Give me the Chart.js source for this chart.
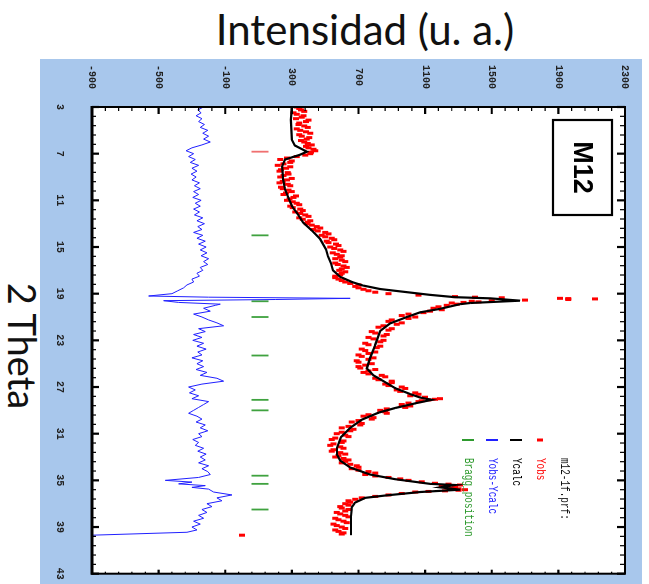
<!DOCTYPE html>
<html>
<head>
<meta charset="utf-8">
<script src="https://cdn.jsdelivr.net/npm/chart.js@4.4.1/dist/chart.umd.min.js"></script>
<style>
  html, body { margin: 0; padding: 0; background: #fff; }
  #page { position: relative; width: 649px; height: 584px; overflow: hidden; background: #fff; }
  #title { position: absolute; left: 365px; top: 4px; transform: translateX(-50%); white-space: nowrap;
           font-family: Lato, "Open Sans", sans-serif; font-size: 42px; line-height: 50px; color: #111; }
  #xlabel { position: absolute; left: 23px; top: 346px; transform: translate(-50%, -50%) rotate(90deg); white-space: nowrap;
            font-family: Lato, "Open Sans", sans-serif; font-size: 38px; line-height: 44px; color: #111; }
  /* the plot is drawn unrotated, then turned a quarter turn clockwise */
  #wrap { position: absolute; left: 40px; top: 59px; width: 525px; height: 602px;
          transform-origin: 0 0; transform: translateX(602px) rotate(90deg); }
</style>
</head>
<body>
<div id="page">
  <div id="title">Intensidad (u. a.)</div>
  <div id="xlabel">2 Theta</div>
  <div id="wrap"><canvas id="chart" width="525" height="602"></canvas></div>
</div>
<script>
// tick labels
const thetaTicks = [3, 7, 11, 15, 19, 23, 27, 31, 35, 39, 43];
const intensityTicks = [-900, -500, -100, 300, 700, 1100, 1500, 1900, 2300];

// Yobs, first half of the scan points
const obsTheta = [
  3.00, 3.25, 3.50, 3.75, 4.00, 4.25, 4.50, 4.75,
  5.00, 5.25, 5.50, 5.75, 6.00, 6.25, 6.50, 6.75,
  7.00, 7.25, 7.50, 7.75, 8.00, 8.25, 8.50, 8.75,
  9.00, 9.25, 9.50, 9.75, 10.00, 10.25, 10.50, 10.75,
  11.00, 11.25, 11.50, 11.75, 12.00, 12.25, 12.50, 12.75,
  13.00, 13.25, 13.50, 13.75, 14.00, 14.25, 14.50, 14.75,
  15.00, 15.25, 15.50, 15.75, 16.00, 16.25, 16.50, 16.75,
  17.00, 17.25, 17.50, 17.75, 18.00, 18.25, 18.50, 18.75,
  19.00, 19.25, 19.35, 19.40, 19.45, 19.50, 19.55, 19.60,
  19.70, 19.80, 20.00, 20.25, 20.50, 20.75, 21.00, 21.25,
  21.50, 21.75, 22.00, 22.25, 22.50, 22.75, 23.00, 23.25,
  23.50, 23.75, 24.00, 24.25, 24.50, 24.75, 25.00, 25.25,
  25.50, 25.75, 26.00, 26.25, 26.50, 26.75, 27.00, 27.25,
  27.50, 27.75, 28.00, 28.10, 28.25, 28.50, 28.75, 29.00,
  29.25, 29.50, 29.75, 30.00, 30.25, 30.50, 30.75, 31.00,
  31.25, 31.50, 31.75, 32.00, 32.25, 32.50, 32.75, 33.00,
  33.25, 33.50, 33.75, 34.00, 34.25, 34.50, 34.75, 35.00,
  35.25, 35.40, 35.50, 35.65, 35.80, 35.90, 36.00, 36.25,
  36.50, 36.75, 37.00, 37.25, 37.50, 37.75, 38.00, 38.25,
  38.50, 38.75, 39.00, 39.25, 39.50, 39.70
];
const obsValues = [
  330, 355, 310, 370, 325, 385, 340, 395,
  350, 410, 360, 390, 375, 420, 400, 440,
  410, 330, 230, 290, 215, 265, 225, 280,
  230, 270, 225, 290, 245, 300, 250, 310,
  270, 330, 290, 350, 320, 380, 345, 410,
  390, 450, 430, 500, 480, 540, 510, 565,
  530, 590, 545, 600, 560, 620, 575, 630,
  585, 600, 560, 580, 620, 700, 700, 760,
  880, 1280, 1560, 1910, 2120, 1960, 1700, 1500,
  1420, 1260, 1230, 1150, 1130, 1000, 1040, 900,
  960, 850, 900, 780, 870, 760, 850, 740,
  830, 720, 800, 700, 790, 690, 780, 700,
  800, 730, 840, 800, 900, 860, 960, 930,
  1040, 1010, 1190, 1120, 1060, 960, 980, 830,
  870, 730, 780, 660, 710, 600, 650, 570,
  640, 540, 600, 530, 610, 540, 620, 560,
  640, 600, 690, 660, 760, 740, 880, 1000,
  1160, 1310, 1200, 1260, 1340, 1220, 1040, 880,
  720, 640, 620, 590, 640, 570, 620, 560,
  610, 550, 600, 560, 610, 0
];

// Yobs, scan points in between
const obsThetaB = [
  3.125, 3.375, 3.625, 3.875, 4.125, 4.375, 4.625, 4.875,
  5.125, 5.375, 5.625, 5.875, 6.125, 6.375, 6.625, 6.875,
  7.125, 7.375, 7.625, 7.875, 8.125, 8.375, 8.625, 8.875,
  9.125, 9.375, 9.625, 9.875, 10.125, 10.375, 10.625, 10.875,
  11.125, 11.375, 11.625, 11.875, 12.125, 12.375, 12.625, 12.875,
  13.125, 13.375, 13.625, 13.875, 14.125, 14.375, 14.625, 14.875,
  15.125, 15.375, 15.625, 15.875, 16.125, 16.375, 16.625, 16.875,
  17.125, 17.375, 17.625, 17.875, 18.125, 18.375, 18.625, 18.875,
  19.125, 19.30, 19.42, 19.65, 19.75, 19.90, 20.125, 20.375,
  20.625, 20.875, 21.125, 21.375, 21.625, 21.875, 22.125, 22.375,
  22.625, 22.875, 23.125, 23.375, 23.625, 23.875, 24.125, 24.375,
  24.625, 24.875, 25.125, 25.375, 25.625, 25.875, 26.125, 26.375,
  26.625, 26.875, 27.125, 27.375, 27.625, 27.875, 28.05, 28.175,
  28.375, 28.625, 28.875, 29.125, 29.375, 29.625, 29.875, 30.125,
  30.375, 30.625, 30.875, 31.125, 31.375, 31.625, 31.875, 32.125,
  32.375, 32.625, 32.875, 33.125, 33.375, 33.625, 33.875, 34.125,
  34.375, 34.625, 34.875, 35.125, 35.325, 35.45, 35.575, 35.725,
  35.85, 35.95, 36.125, 36.375, 36.625, 36.875, 37.125, 37.375,
  37.625, 37.875, 38.125, 38.375, 38.625, 38.875, 39.125, 39.375,
  39.60
];
const obsValuesB = [
  345, 375, 330, 360, 400, 345, 375, 330,
  385, 345, 405, 355, 395, 385, 430, 415,
  380, 270, 300, 250, 290, 235, 275, 250,
  300, 245, 275, 235, 280, 265, 325, 285,
  305, 345, 305, 365, 350, 400, 365, 395,
  420, 470, 455, 520, 500, 555, 520, 580,
  555, 610, 570, 590, 600, 560, 610, 600,
  620, 590, 560, 600, 650, 680, 730, 800,
  1060, 1400, 1960, 1380, 1330, 1290, 1180, 1200,
  1090, 960, 1000, 880, 930, 820, 880, 800,
  850, 790, 830, 760, 810, 740, 760, 720,
  760, 700, 740, 710, 760, 760, 860, 820,
  900, 880, 980, 950, 1060, 1100, 1160, 1080,
  1000, 1010, 870, 860, 760, 790, 700, 720,
  640, 670, 600, 620, 560, 610, 550, 590,
  550, 590, 580, 610, 620, 650, 700, 700,
  800, 800, 950, 1080, 1240, 1230, 1280, 1300,
  1300, 1120, 960, 800, 680, 650, 640, 600,
  620, 590, 640, 580, 630, 570, 620, 580,
  600
];

// Ycalc
const calcTheta = [3.0, 4.1, 5.8, 6.3, 6.66, 6.83, 7.09, 7.5, 8.1, 9.2, 10.06, 10.9, 11.5, 12.2, 12.9, 13.6,
  14.3, 15.2, 15.8, 16.4, 17.0, 17.55, 18.0, 18.3, 18.6, 18.8, 19.1, 19.3, 19.4, 19.6, 19.8, 19.9,
  20.3, 20.6, 21.0, 21.55, 22.2, 23.4, 24.5, 25.4, 26.0, 26.5, 27.1, 27.6, 27.9, 28.1, 28.4, 28.8,
  29.2, 29.8, 30.5, 31.3, 32.2, 32.8, 33.3, 33.9, 34.5, 34.9, 35.3, 35.4, 35.6, 35.8, 36.0, 36.3,
  36.5, 36.9, 37.3, 38.1, 39.0, 39.7];
const calcValues = [300, 294, 300, 318, 367, 390, 349, 259, 241, 247, 259, 283, 300, 336, 367, 421,
  469, 505, 517, 535, 547, 589, 661, 727, 829, 949, 1129, 1279, 1490, 1670, 1370, 1310,
  1190, 1070, 990, 890, 830, 800, 770, 750, 790, 850, 920, 1010, 1070, 1140, 1040, 920,
  820, 720, 650, 595, 571, 571, 590, 650, 770, 920, 1130, 1280, 1190, 1310, 1070, 860,
  740, 680, 660, 655, 655, 655];

// Yobs-Ycalc (drawn with its offset)
const diffTheta = [
  3.00, 3.25, 3.50, 3.75, 4.00, 4.25, 4.50, 4.75,
  5.00, 5.25, 5.50, 5.75, 6.00, 6.25, 6.50, 6.75,
  7.00, 7.25, 7.50, 7.75, 8.00, 8.25, 8.50, 8.75,
  9.00, 9.25, 9.50, 9.75, 10.00, 10.25, 10.50, 10.75,
  11.00, 11.25, 11.50, 11.75, 12.00, 12.25, 12.50, 12.75,
  13.00, 13.25, 13.50, 13.75, 14.00, 14.25, 14.50, 14.75,
  15.00, 15.25, 15.50, 15.75, 16.00, 16.25, 16.50, 16.75,
  17.00, 17.25, 17.50, 17.75, 18.00, 18.25, 18.50, 18.75,
  19.00, 19.20, 19.30, 19.40, 19.50, 19.60, 19.75, 19.90,
  20.00, 20.25, 20.50, 20.75, 21.00, 21.25, 21.50, 21.75,
  22.00, 22.25, 22.50, 22.75, 23.00, 23.25, 23.50, 23.75,
  24.00, 24.25, 24.50, 24.75, 25.00, 25.25, 25.50, 25.75,
  26.00, 26.25, 26.50, 26.75, 27.00, 27.25, 27.50, 27.75,
  28.00, 28.25, 28.50, 28.75, 29.00, 29.25, 29.50, 29.75,
  30.00, 30.25, 30.50, 30.75, 31.00, 31.25, 31.50, 31.75,
  32.00, 32.25, 32.50, 32.75, 33.00, 33.25, 33.50, 33.75,
  34.00, 34.25, 34.50, 34.75, 35.00, 35.15, 35.30, 35.45,
  35.60, 35.75, 36.00, 36.25, 36.50, 36.75, 37.00, 37.25,
  37.50, 37.75, 38.00, 38.25, 38.50, 38.75, 39.00, 39.25,
  39.45, 39.70
];
const diffValues = [
  -230, -265, -245, -275, -240, -260, -225, -250,
  -205, -235, -200, -230, -190, -240, -300, -335,
  -290, -320, -280, -310, -260, -300, -270, -305,
  -275, -300, -255, -285, -250, -290, -260, -295,
  -245, -280, -250, -290, -255, -285, -235, -270,
  -225, -265, -240, -290, -235, -270, -220, -260,
  -215, -250, -210, -245, -200, -230, -205, -250,
  -235, -270, -255, -300, -290, -330, -350, -385,
  -420, -560, -200, 650, 200, -470, -380, -130,
  -160, -230, -190, -290, -240, -200, -150, -110,
  -260, -220, -290, -240, -295, -230, -270, -215,
  -265, -240, -300, -235, -270, -230, -275, -210,
  -250, -150, -110, -240, -320, -280, -315, -260,
  -300, -200, -230, -260, -290, -320, -270, -240,
  -275, -220, -250, -205, -260, -240, -295, -260,
  -280, -230, -265, -215, -250, -220, -260, -200,
  -240, -205, -190, -260, -460, -300, -380, -220,
  -300, -200, -170, -60, -150, -120, -210, -180,
  -240, -210, -260, -230, -290, -250, -300, -270,
  -330, -900
];

// Bragg positions
const braggTheta = [14.0, 19.65, 21.0, 24.3, 28.1, 29.0, 34.6, 35.3, 37.5];
const braggTheta2 = [6.83];
const braggLevel = 108;

const minorSteps = 5;

function withMinor(majors) {
  let out = [];
  for (let i = 0; i < majors.length - 1; i++) {
    let a = majors[i], b = majors[i + 1];
    for (let k = 0; k < minorSteps; k++) {
      out.push({ value: a + (b - a) * k / minorSteps, isMajor: k === 0 });
    }
  }
  out.push({ value: majors[majors.length - 1], isMajor: true });
  return out;
}

function pairs(xs, ys) {
  return xs.map((x, i) => ({ x: x, y: ys[i] }));
}

const tickFont = { family: 'Liberation Mono', size: 10, weight: 'bold' };

// frame, inward ticks, M12 box and the legend
const framePlugin = {
  id: 'frame',
  beforeDraw(chart) {
    const { ctx, chartArea: a, width, height } = chart;
    ctx.save();
    ctx.fillStyle = '#a8c7ec';
    ctx.fillRect(0, 0, width, height);
    ctx.fillStyle = '#ffffff';
    ctx.fillRect(a.left, a.top, a.right - a.left, a.bottom - a.top);
    ctx.restore();
  },
  afterDraw(chart) {
    const { ctx, chartArea: a } = chart;
    const x = chart.scales.x, y = chart.scales.y;
    ctx.save();
    ctx.strokeStyle = '#000';

    x.ticks.forEach(t => {
      let px = x.getPixelForValue(t.value);
      ctx.lineWidth = t.isMajor ? 2.2 : 1.2;
      ctx.beginPath();
      ctx.moveTo(px, a.bottom);
      ctx.lineTo(px, a.bottom - (t.isMajor ? 7 : 4));
      ctx.moveTo(px, a.top);
      ctx.lineTo(px, a.top + (t.isMajor ? 8 : 5));
      ctx.stroke();
    });
    y.ticks.forEach(t => {
      let py = y.getPixelForValue(t.value);
      ctx.lineWidth = t.isMajor ? 2.2 : 1.2;
      ctx.beginPath();
      ctx.moveTo(a.left, py);
      ctx.lineTo(a.left + (t.isMajor ? 7 : 4), py);
      ctx.moveTo(a.right, py);
      ctx.lineTo(a.right - (t.isMajor ? 4 : 2), py);
      ctx.stroke();
    });

    ctx.lineWidth = 2;
    ctx.strokeRect(a.left, a.top, a.right - a.left, a.bottom - a.top);
    ctx.lineWidth = 3;
    ctx.beginPath();
    ctx.moveTo(a.left - 1, a.bottom);
    ctx.lineTo(a.right + 1, a.bottom);
    ctx.stroke();

    // M12 box
    ctx.lineWidth = 2.2;
    ctx.strokeRect(61, 30, 95, 59);
    ctx.fillStyle = '#000';
    ctx.font = 'bold 27px "Liberation Sans", Arial, sans-serif';
    ctx.textAlign = 'center';
    ctx.textBaseline = 'middle';
    ctx.fillText('M12', 108.5, 61);

    // legend
    const rows = [
      { text: 'm12-1f.prf:', color: '#111', mark: null },
      { text: 'Yobs', color: '#ff0000', mark: 'dash' },
      { text: 'Ycalc', color: '#000000', mark: 'line' },
      { text: 'Yobs-Ycalc', color: '#2020ff', mark: 'line' },
      { text: 'Bragg_position', color: '#2e9a2e', mark: 'line' }
    ];
    ctx.textAlign = 'left';
    ctx.font = '13px "Liberation Mono", monospace';
    rows.forEach((r, i) => {
      let v = 78 + i * 24;
      ctx.fillStyle = r.color;
      ctx.save();
      ctx.translate(399, v);
      ctx.scale(0.72, 1);
      ctx.fillText(r.text, 0, 0);
      ctx.restore();
      if (r.mark) {
        ctx.strokeStyle = r.color;
        ctx.lineWidth = r.mark === 'dash' ? 3 : 2;
        let half = r.mark === 'dash' ? 3 : 6;
        ctx.beginPath();
        ctx.moveTo(381, v - half);
        ctx.lineTo(381, v + half);
        ctx.stroke();
      }
    });
    ctx.restore();
  }
};

const chart = new Chart(document.getElementById('chart'), {
  type: 'scatter',
  data: {
    datasets: [
      {
        label: 'Ycalc',
        data: pairs(calcTheta, calcValues),
        showLine: true,
        borderColor: '#000000',
        borderWidth: 2.2,
        pointRadius: 0,
        order: 0
      },
      {
        label: 'Yobs',
        data: pairs(obsTheta, obsValues).concat(pairs(obsThetaB, obsValuesB)),
        borderColor: '#ff0000',
        backgroundColor: '#ff0000',
        pointStyle: 'line',
        rotation: 90,
        pointRadius: 3,
        borderWidth: 3,
        order: 1
      },
      {
        label: 'Yobs-Ycalc',
        data: pairs(diffTheta, diffValues),
        showLine: true,
        borderColor: '#2020ff',
        borderWidth: 1,
        pointRadius: 0,
        order: 2
      },
      {
        label: 'Bragg_position',
        data: braggTheta.map(t => ({ x: t, y: braggLevel })),
        borderColor: '#3fa23f',
        pointStyle: 'line',
        rotation: 90,
        pointRadius: 8.5,
        borderWidth: 1.8,
        order: 3
      },
      {
        label: '',
        data: braggTheta2.map(t => ({ x: t, y: braggLevel })),
        borderColor: '#f07070',
        pointStyle: 'line',
        rotation: 90,
        pointRadius: 8.5,
        borderWidth: 1.8,
        order: 3
      }
    ]
  },
  options: {
    responsive: false,
    animation: false,
    events: [],
    layout: { padding: { top: 17, right: 7, left: 0, bottom: 0 } },
    plugins: {
      legend: { display: false },
      tooltip: { enabled: false }
    },
    scales: {
      x: {
        type: 'linear',
        min: 3,
        max: 43,
        afterBuildTicks: s => { s.ticks = withMinor(thetaTicks); },
        afterFit: s => { s.height = 52; s.paddingLeft = 0; s.paddingRight = 0; },
        grid: { display: false, drawTicks: false },
        border: { display: false },
        ticks: {
          autoSkip: false,
          maxRotation: 0,
          minRotation: 0,
          padding: 26,
          color: '#222',
          font: tickFont,
          callback: (v, i, ticks) => ticks[i].isMajor ? String(v) : ''
        }
      },
      y: {
        type: 'linear',
        min: -900,
        max: 2300,
        afterBuildTicks: s => { s.ticks = withMinor(intensityTicks); },
        afterFit: s => { s.width = 48; s.paddingTop = 0; s.paddingBottom = 0; },
        grid: { display: false, drawTicks: false },
        border: { display: false },
        ticks: {
          autoSkip: false,
          crossAlign: 'center',
          padding: 18,
          color: '#222',
          font: tickFont,
          callback: (v, i, ticks) => ticks[i].isMajor ? String(v) : ''
        }
      }
    }
  },
  plugins: [framePlugin]
});
</script>
</body>
</html>
